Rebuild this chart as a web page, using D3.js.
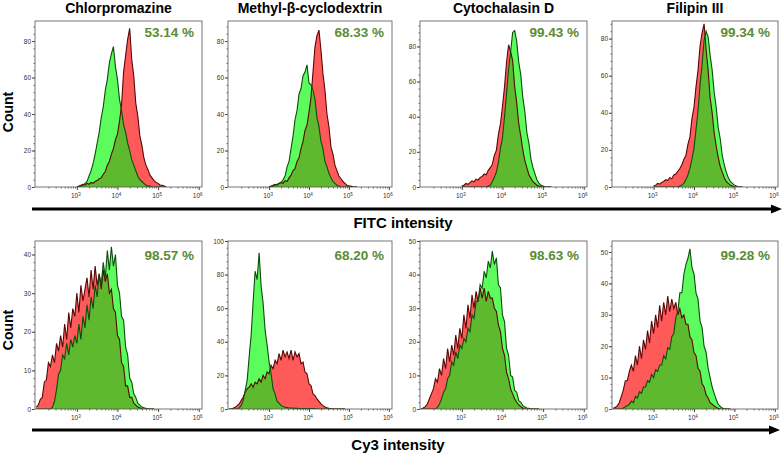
<!DOCTYPE html>
<html>
<head>
<meta charset="utf-8">
<script src="https://cdnjs.cloudflare.com/ajax/libs/d3/7.8.5/d3.min.js"></script>
<style>
body { margin: 0; background: #fff; }
text { font-family: "Liberation Sans", Arial, sans-serif; }
</style>
</head>
<body>
<script>
// Panel titles and gated percentages
var titles = ["Chlorpromazine", "Methyl-\u03b2-cyclodextrin", "Cytochalasin D", "Filipin III"];
var fitcPercent = ["53.14 %", "68.33 %", "99.43 %", "99.34 %"];
var cy3Percent = ["98.57 %", "68.20 %", "98.63 %", "99.28 %"];

// y axis ranges and tick steps
var fitcYMax = [91, 91, 94.5, 89.5];
var cy3YMax = [43.5, 100, 50, 53.5];
var fitcTickStep = [20, 20, 20, 20];
var cy3TickStep = [10, 20, 10, 10];
var decadeTicks = [1e3, 1e4, 1e5, 1e6];

// histogram bins: first bin (log10 intensity) and bin width in decades
var fitcBinStart = 3.0;
var cy3BinStart = 2.0;
var binStep = 0.05;

// FITC histograms, bins 10^3.00 .. 10^5.20 (red = control, green = treated)
var chlorFitcRed = [0, 0.5, 1, 1.5, 1, 2, 1.5, 2.5, 2, 3, 3.5, 4.5, 5, 7, 8.5, 12, 14, 18, 21, 26, 29, 36, 45, 63, 72, 81, 87, 70, 61, 46, 39, 28, 23, 16, 12, 9.5, 6.5, 5, 3.5, 2.5, 2, 1, 1, 0.5, 0];
var chlorFitcGreen = [0, 0, 0.5, 1, 2, 3, 6, 9, 13, 18, 24, 30, 38, 44, 53, 59, 68, 73, 77, 66, 59, 48, 42, 34, 30, 24, 20, 15, 12, 9, 6, 4, 3, 2, 1, 0.5, 0.5, 0, 0, 0, 0, 0, 0, 0, 0];
var mbcdFitcRed = [0, 0.5, 1, 1.5, 1, 2, 2.5, 2, 3.5, 3, 5, 6.5, 9, 10, 14, 16, 21, 25, 31, 34, 41, 49, 63, 77, 83, 86, 75, 62, 53, 40, 33, 22, 18, 12, 9, 6, 4.5, 3, 2, 1, 0.5, 0.5, 0, 0, 0];
var mbcdFitcGreen = [0, 0, 0.5, 1, 1.5, 2, 2.5, 4, 6, 11, 14, 21, 28, 37, 42, 51, 54, 61, 63, 67, 57, 56, 53, 48, 38, 33, 25, 21, 14, 11, 7.5, 5, 3, 2, 1, 0.5, 0, 0, 0, 0, 0, 0, 0, 0, 0];
var cytoFitcRed = [0.5, 1, 2, 1.5, 2.5, 3.5, 3, 4.5, 4, 5.5, 6, 7.5, 7, 9.5, 11, 13, 18, 21, 30, 36, 46, 57, 71, 81, 77, 72, 57, 48, 36, 29, 21, 15, 11, 7, 5, 3, 2, 1, 0.5, 0, 0, 0, 0, 0, 0];
var cytoFitcGreen = [0, 0, 0, 0, 0, 0, 0, 0, 0, 0, 0, 0, 0, 0.5, 1, 3, 5.5, 8.5, 14, 22, 28, 40, 53, 67, 77, 88, 89, 83, 71, 64, 51, 43, 31, 25, 16, 11, 7.5, 4, 2, 1, 0.5, 0, 0, 0, 0];
var filiFitcRed = [0.5, 1, 2, 1.5, 2.5, 3, 4, 3.5, 5, 4.5, 6.5, 7, 8.5, 10, 12, 15, 17, 23, 27, 37, 43, 54, 63, 76, 83, 88, 74, 63, 48, 40, 29, 22, 16, 11, 8, 5, 3, 2, 1, 0.5, 0, 0, 0, 0, 0];
var filiFitcGreen = [0, 0, 0, 0, 0, 0, 0, 0, 0, 0, 0, 0, 0, 0.5, 1, 2, 4, 6.5, 10, 15, 21, 31, 41, 55, 66, 79, 84, 81, 71, 63, 51, 43, 32, 26, 17, 12, 8, 5, 3, 2, 1, 0.5, 0, 0, 0];

// Cy3 histograms, bins 10^2.00 .. 10^4.90
var chlorCy3Red = [0.5, 1, 2.5, 3, 7, 7.5, 12, 11, 14, 12, 17, 15, 19, 16, 22, 18, 25, 21, 26, 24, 30, 25, 32, 28, 31, 34, 29, 36, 31, 37, 32, 35, 31, 36, 33, 35, 30, 31, 26, 25, 19, 18, 12, 11, 6, 6, 3, 3, 1.5, 1, 0.5, 0.3, 0, 0, 0, 0, 0, 0, 0];
var chlorCy3Green = [0, 0, 0, 0, 0, 0, 0, 0, 0.5, 2, 5, 9, 10, 14, 13, 17, 14, 18, 16, 19, 17, 22, 18, 24, 21, 27, 23, 29, 26, 32, 29, 35, 32, 38, 34, 41, 36, 42, 37, 40, 32, 30, 24, 23, 16, 14, 8, 7, 4, 3, 1.5, 1, 0.5, 0.3, 0.2, 0, 0, 0, 0];
var mbcdCy3Red = [0, 0, 0.5, 1, 2, 3, 5, 7, 10, 12, 13, 15, 13, 16, 15, 18, 16, 20, 18, 22, 21, 26, 24, 29, 27, 33, 29, 35, 31, 34, 30, 35, 29, 34, 31, 33, 27, 28, 22, 21, 15, 14, 9, 8, 6, 4.5, 3, 2, 1.2, 0.7, 0.4, 0.2, 0, 0, 0, 0, 0, 0, 0];
var mbcdCy3Green = [0, 0, 0, 0, 0, 0.5, 2, 5, 11, 17, 31, 44, 64, 82, 77, 93, 73, 63, 47, 38, 28, 21, 12, 9, 4.5, 3.5, 2, 1.5, 1, 0.8, 0.6, 0.5, 0.5, 0.4, 0.4, 0.3, 0.3, 0.3, 0.3, 0.2, 0.2, 0.2, 0.2, 0.2, 0, 0, 0, 0, 0, 0, 0, 0, 0, 0, 0, 0, 0, 0, 0];
var cytoCy3Red = [0, 0.3, 0.7, 1.5, 3, 4.5, 6, 9, 8, 12, 10, 15, 12, 18, 14, 19, 16, 22, 18, 24, 21, 28, 24, 31, 27, 34, 30, 35, 32, 36, 33, 36, 32, 35, 33, 33, 30, 29, 25, 23, 18, 16, 11, 9, 6, 4.5, 3, 2, 1.2, 0.7, 0.3, 0, 0, 0, 0, 0, 0, 0, 0];
var cytoCy3Green = [0, 0, 0, 0, 0, 0, 0, 0, 0.5, 1.5, 3, 5, 6, 9, 10, 14, 13, 17, 15, 19, 18, 21, 20, 24, 23, 28, 27, 32, 32, 37, 36, 41, 39, 44, 42, 47, 43, 45, 37, 36, 28, 26, 18, 16, 10, 9.5, 5.5, 5, 2.5, 2, 1, 0.6, 0.3, 0.2, 0, 0, 0, 0, 0];
var filiCy3Red = [0.2, 0.5, 1, 2, 4, 6, 9, 9, 12, 14, 12, 17, 14, 20, 16, 22, 19, 25, 21, 28, 24, 30, 26, 33, 28, 34, 30, 36, 31, 35, 32, 34, 30, 32, 29, 30, 27, 27, 23, 22, 18, 17, 13, 12, 8, 7, 4.5, 3.5, 2, 1.5, 1, 0.5, 0.2, 0, 0, 0, 0, 0, 0];
var filiCy3Green = [0, 0, 0, 0, 0, 0.3, 0.7, 1, 1.5, 2.5, 2, 4, 3.5, 5.5, 5, 7, 7, 9, 8.5, 11, 10, 12.5, 12, 14, 14, 17, 16, 19.5, 19, 23, 24, 29, 31, 37, 37, 43, 46, 48, 51, 45, 43, 37, 35, 28, 26, 20, 18, 13, 10, 7, 5, 3, 1.5, 0.8, 0.3, 0, 0, 0, 0];

var width = 784;
var height = 455;

// layout
var colX = [35, 228, 420, 612];
var colW = [167, 164, 167, 166];
var rowY = [21, 241];
var rowH = [166, 168];
var xDomain = [Math.pow(10, 1.97), Math.pow(10, 6.08)];

var redFill = "#ff5a5a", redLine = "#5a0606";
var greenFill = "#5cfc5c", greenLine = "#0c4c0c";
var overlapFill = "#5fb92e";
var pctColor = "#5b8c30";

var svg = d3.select("body")
  .append("svg")
    .attr("width", width)
    .attr("height", height);

var rows = [
  {start: fitcBinStart, yMax: fitcYMax, step: fitcTickStep, pct: fitcPercent, pctDy: 16,
   red: [chlorFitcRed, mbcdFitcRed, cytoFitcRed, filiFitcRed],
   green: [chlorFitcGreen, mbcdFitcGreen, cytoFitcGreen, filiFitcGreen]},
  {start: cy3BinStart, yMax: cy3YMax, step: cy3TickStep, pct: cy3Percent, pctDy: 19,
   red: [chlorCy3Red, mbcdCy3Red, cytoCy3Red, filiCy3Red],
   green: [chlorCy3Green, mbcdCy3Green, cytoCy3Green, filiCy3Green]}
];

rows.forEach(function(row, r) {
  for (var c = 0; c < 4; c++) {
    drawPanel(r, c, row);
  }
});

function drawPanel(r, c, row) {
  var w = colW[c], h = rowH[r];
  var g = svg.append("g")
    .attr("transform", "translate(" + colX[c] + "," + rowY[r] + ")");

  var x = d3.scaleLog().domain(xDomain).range([0, w]);
  var y = d3.scaleLinear().domain([0, row.yMax[c]]).range([h, 0]);

  var red = row.red[c], green = row.green[c];
  var bin = function(i) { return Math.pow(10, row.start + i * binStep); };
  var redPts = red.map(function(v, i) { return {x: bin(i), v: v}; });
  var greenPts = green.map(function(v, i) { return {x: bin(i), v: v}; });
  var overlapPts = red.map(function(v, i) { return {x: bin(i), v: Math.min(v, green[i])}; });

  var clipId = "clip" + r + c;
  g.append("clipPath").attr("id", clipId)
    .append("rect").attr("width", w).attr("height", h);

  var area = d3.area().x(function(d) { return x(d.x); }).y0(h).y1(function(d) { return y(d.v); });
  var line = d3.line().x(function(d) { return x(d.x); }).y(function(d) { return y(d.v); });

  var plot = g.append("g").attr("clip-path", "url(#" + clipId + ")");
  plot.append("path").datum(redPts).attr("d", area).attr("fill", redFill);
  plot.append("path").datum(greenPts).attr("d", area).attr("fill", greenFill);
  plot.append("path").datum(overlapPts).attr("d", area).attr("fill", overlapFill);
  plot.append("path").datum(redPts).attr("d", line)
    .attr("fill", "none").attr("stroke", redLine).attr("stroke-width", 1.1);
  plot.append("path").datum(greenPts).attr("d", line)
    .attr("fill", "none").attr("stroke", greenLine).attr("stroke-width", 1.1);

  // frame
  g.append("rect")
    .attr("width", w).attr("height", h)
    .attr("fill", "none").attr("stroke", "#555").attr("stroke-width", 0.8);

  // y axis
  var step = row.step[c];
  var yAxis = g.append("g").call(d3.axisLeft(y)
      .tickValues(d3.range(0, row.yMax[c] + 0.01, step))
      .tickSize(3).tickPadding(1));
  yAxis.select(".domain").remove();
  yAxis.selectAll("line").attr("stroke", "#444");
  yAxis.selectAll("text").attr("font-size", 6.5).attr("fill", "#333")
    .attr("font-family", "'Liberation Sans', Arial, sans-serif");

  var yMinor = g.append("g").call(d3.axisLeft(y)
      .tickValues(d3.range(0, row.yMax[c], step / 5))
      .tickSize(1.5).tickFormat(""));
  yMinor.select(".domain").remove();
  yMinor.selectAll("line").attr("stroke", "#666");

  // x axis (log decades + minor ticks)
  var minors = [];
  [2, 3, 4, 5].forEach(function(d) {
    for (var k = 2; k < 10; k++) {
      var v = k * Math.pow(10, d);
      if (v > xDomain[0] && v < xDomain[1]) minors.push(v);
    }
  });
  var xMinor = g.append("g").attr("transform", "translate(0," + h + ")")
    .call(d3.axisBottom(x).tickValues(minors).tickSize(1.5).tickFormat(""));
  xMinor.select(".domain").remove();
  xMinor.selectAll("line").attr("stroke", "#666");

  var xAxis = g.append("g").attr("transform", "translate(0," + h + ")")
    .call(d3.axisBottom(x).tickValues(decadeTicks).tickSize(3).tickFormat(""));
  xAxis.select(".domain").remove();
  xAxis.selectAll("line").attr("stroke", "#444");

  decadeTicks.forEach(function(t) {
    var lab = g.append("text")
      .attr("x", x(t) - 1)
      .attr("y", h + 11)
      .attr("text-anchor", "middle")
      .attr("font-size", 6.5)
      .attr("fill", "#333")
      .text("10");
    lab.append("tspan")
      .attr("dy", -2.5)
      .attr("font-size", 4.5)
      .text(Math.round(Math.log10(t)));
  });

  // percentage
  g.append("text")
    .attr("x", w - 8)
    .attr("y", row.pctDy)
    .attr("text-anchor", "end")
    .attr("font-size", 13.5)
    .attr("font-weight", "bold")
    .attr("fill", pctColor)
    .text(row.pct[c]);

  if (r === 0) {
    svg.append("text")
      .attr("x", colX[c] + w / 2)
      .attr("y", 13)
      .attr("text-anchor", "middle")
      .attr("font-size", 14)
      .attr("font-weight", "bold")
      .text(titles[c]);
  }
}

// Count labels
[112, 330].forEach(function(cy) {
  svg.append("text")
    .attr("transform", "translate(13," + cy + ") rotate(-90)")
    .attr("text-anchor", "middle")
    .attr("font-size", 14)
    .attr("font-weight", "bold")
    .text("Count");
});

// intensity arrows
var arrows = [
  {y: 209, end: 782, label: "FITC intensity", lx: 403, ly: 228},
  {y: 430, end: 780, label: "Cy3 intensity", lx: 398, ly: 450}
];
arrows.forEach(function(a) {
  svg.append("line")
    .attr("x1", 32).attr("x2", a.end - 8)
    .attr("y1", a.y).attr("y2", a.y)
    .attr("stroke", "#000").attr("stroke-width", 3);
  svg.append("path")
    .attr("d", "M" + (a.end - 11) + "," + (a.y - 4.5) + "L" + a.end + "," + a.y + "L" + (a.end - 11) + "," + (a.y + 4.5) + "Z")
    .attr("fill", "#000");
  svg.append("text")
    .attr("x", a.lx)
    .attr("y", a.ly)
    .attr("text-anchor", "middle")
    .attr("font-size", 15)
    .attr("font-weight", "bold")
    .text(a.label);
});
</script>
</body>
</html>
